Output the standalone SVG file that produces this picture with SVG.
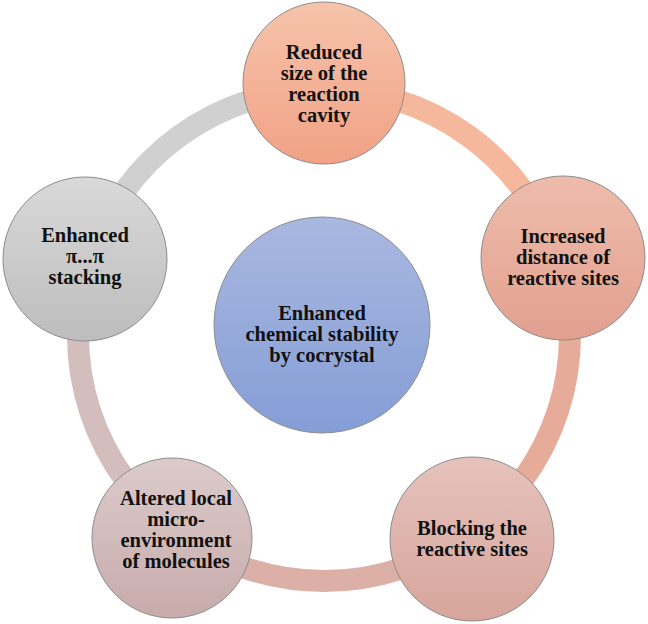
<svg xmlns="http://www.w3.org/2000/svg" width="648" height="624" viewBox="0 0 648 624">
<defs>
<linearGradient id="gTop" x1="0" y1="0" x2="0" y2="1"><stop offset="0" stop-color="#f6c3ab"/><stop offset="1" stop-color="#f1a286"/></linearGradient>
<linearGradient id="gRight" x1="0" y1="0" x2="0" y2="1"><stop offset="0" stop-color="#eebcab"/><stop offset="1" stop-color="#e2a08f"/></linearGradient>
<linearGradient id="gBR" x1="0" y1="0" x2="0" y2="1"><stop offset="0" stop-color="#e5c3bc"/><stop offset="1" stop-color="#d7a59c"/></linearGradient>
<linearGradient id="gBL" x1="0" y1="0" x2="0" y2="1"><stop offset="0" stop-color="#dccbcb"/><stop offset="1" stop-color="#c8abab"/></linearGradient>
<linearGradient id="gLeft" x1="0" y1="0" x2="0" y2="1"><stop offset="0" stop-color="#d9d9d9"/><stop offset="1" stop-color="#bdbdbd"/></linearGradient>
<linearGradient id="gCenter" x1="0" y1="0" x2="0" y2="1"><stop offset="0" stop-color="#a9b8e0"/><stop offset="1" stop-color="#859dd6"/></linearGradient>
</defs>
<style>
.node{stroke:#8c8c8c;stroke-width:1}
.arc{fill:none;stroke-width:22}
.lbl{font-family:"Liberation Serif","Times New Roman",serif;font-weight:bold;font-size:20.5px;fill:#111;text-anchor:middle}
</style>
<g id="connectors">
<path class="arc" stroke="#f5b89c" d="M 324 89 A 246 246 0 0 1 557.97 258.99"/>
<path class="arc" stroke="#e7ab99" d="M 557.97 258.99 A 246 246 0 0 1 468.6 534"/>
<path class="arc" stroke="#dcafa7" d="M 468.6 534 A 246 246 0 0 1 179.4 534"/>
<path class="arc" stroke="#d3bdbd" d="M 179.4 534 A 246 246 0 0 1 90.03 258.99"/>
<path class="arc" stroke="#d0d0d0" d="M 90.03 258.99 A 246 246 0 0 1 324 89"/>
</g>
<g id="center">
<circle class="node" cx="322" cy="325" r="108" fill="url(#gCenter)"/>
<text class="lbl"><tspan x="322" y="320">Enhanced</tspan><tspan x="322" y="341">chemical stability</tspan><tspan x="322" y="362">by cocrystal</tspan></text>
</g>
<g id="n1">
<circle class="node" cx="324" cy="83" r="81" fill="url(#gTop)"/>
<text class="lbl"><tspan x="324" y="59">Reduced</tspan><tspan x="324" y="80">size of the</tspan><tspan x="324" y="101">reaction</tspan><tspan x="324" y="122">cavity</tspan></text>
</g>
<g id="n2">
<circle class="node" cx="563" cy="258" r="82" fill="url(#gRight)"/>
<text class="lbl"><tspan x="563" y="243">Increased</tspan><tspan x="563" y="264">distance of</tspan><tspan x="563" y="285">reactive sites</tspan></text>
</g>
<g id="n3">
<circle class="node" cx="472" cy="539" r="82" fill="url(#gBR)"/>
<text class="lbl"><tspan x="472" y="535">Blocking the</tspan><tspan x="472" y="556">reactive sites</tspan></text>
</g>
<g id="n4">
<circle class="node" cx="172" cy="538" r="80" fill="url(#gBL)"/>
<text class="lbl"><tspan x="176" y="504.5">Altered local</tspan><tspan x="176" y="525.5">micro-</tspan><tspan x="176" y="546.5">environment</tspan><tspan x="176" y="567.5">of molecules</tspan></text>
</g>
<g id="n5">
<circle class="node" cx="85" cy="259" r="82" fill="url(#gLeft)"/>
<text class="lbl"><tspan x="85" y="242">Enhanced</tspan><tspan x="85" y="263">π...π</tspan><tspan x="85" y="284">stacking</tspan></text>
</g>
</svg>
